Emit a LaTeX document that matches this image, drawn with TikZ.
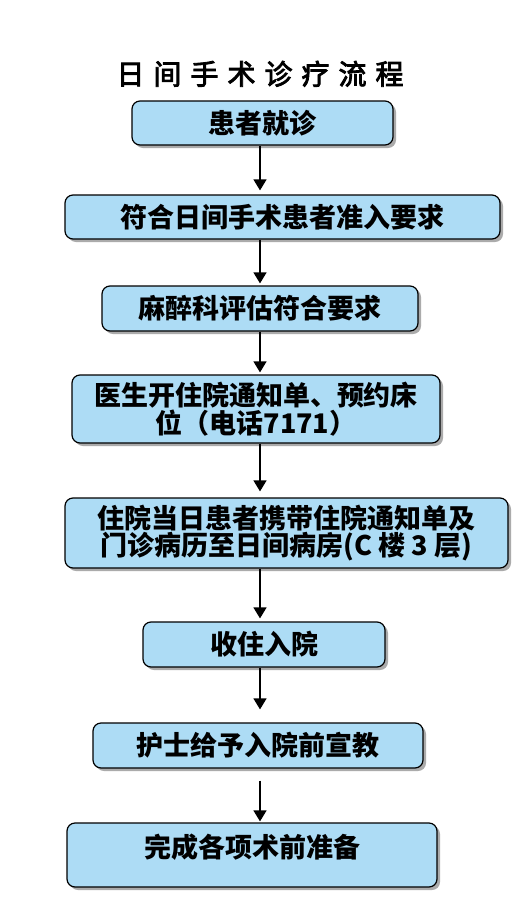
\documentclass[tikz,border=0pt]{standalone}
\usepackage{fontspec}
\newfontfamily\cjk{Noto Sans CJK SC}
\newfontfamily\cjktitle{Noto Sans CJK SC}[FakeBold=3]
\usetikzlibrary{shadows,arrows.meta}
\definecolor{boxfill}{RGB}{173,220,245}
\begin{document}
\begin{tikzpicture}[x=1pt,y=-1pt,
  box/.style={draw=black, line width=1.2pt, fill=boxfill, rounded corners=8pt,
    drop shadow={shadow xshift=3pt, shadow yshift=-3pt, fill=black!55, opacity=0.6},
    font=\cjk\bfseries\fontsize{27}{25.5}\selectfont, align=center, inner sep=0pt},
  oneline/.style={text height=21pt, text depth=1pt},
  arr/.style={line width=1.3pt, -{Triangle[width=13pt,length=11pt]}}]
\useasboundingbox[fill=white] (0,0) rectangle (525,900);

\node[font=\cjktitle\fontsize{28}{28}\selectfont, text height=22pt, text depth=1pt, inner sep=0pt] (title) at (260,74)
  {日\hspace{9pt}间\hspace{9pt}手\hspace{9pt}术\hspace{9pt}诊\hspace{9pt}疗\hspace{9pt}流\hspace{9pt}程};

\node[box, oneline, minimum width=261pt, minimum height=44pt] (b1) at (262.5,123) {患者就诊};
\node[box, oneline, minimum width=435pt, minimum height=44pt] (b2) at (282.5,217) {符合日间手术患者准入要求};
\node[box, oneline, minimum width=316pt, minimum height=45pt] (b3) at (260,308.5) {麻醉科评估符合要求};
\node[box, minimum width=368pt, minimum height=68pt] (b4) at (256,409) {医生开住院通知单、预约床\\位（电话7171）};
\node[box, minimum width=443pt, minimum height=70pt] (b5) at (286.5,533) {住院当日患者携带住院通知单及\\门诊病历至日间病房(C 楼 3 层)};
\node[box, oneline, minimum width=242pt, minimum height=45pt] (b6) at (264,644.5) {收住入院};
\node[box, oneline, minimum width=330pt, minimum height=45pt] (b7) at (258,745.5) {护士给予入院前宣教};
\node[box, text height=21pt, text depth=17pt, minimum width=370pt, minimum height=64pt] (b8) at (252,855) {完成各项术前准备};

\coordinate (ax) at (260,0);
\draw[arr, shorten >=4pt] (b1.south -| ax) -- (b2.north -| ax);
\draw[arr, shorten >=2pt] (b2.south -| ax) -- (b3.north -| ax);
\draw[arr, shorten >=2pt] (b3.south -| ax) -- (b4.north -| ax);
\draw[arr, shorten >=6pt] (b4.south -| ax) -- (b5.north -| ax);
\draw[arr, shorten >=3pt] (b5.south -| ax) -- (b6.north -| ax);
\draw[arr, shorten >=13pt] (b6.south -| ax) -- (b7.north -| ax);
\draw[arr, shorten <=12pt, shorten >=1pt] (b7.south -| ax) -- (b8.north -| ax);
\end{tikzpicture}
\end{document}
